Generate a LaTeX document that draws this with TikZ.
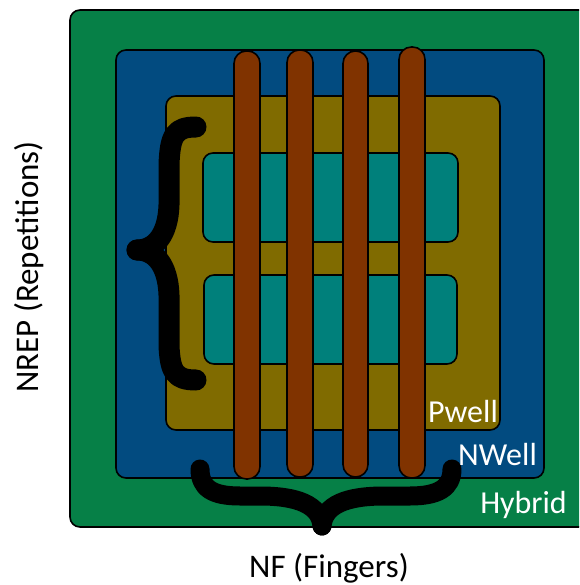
\documentclass[tikz,border=0pt]{standalone}
\usepackage{fontspec}
\setmainfont{Carlito}
\definecolor{hybridcol}{HTML}{068047}
\definecolor{nwellcol}{HTML}{024B80}
\definecolor{pwellcol}{HTML}{806B00}
\definecolor{diffcol}{HTML}{00807B}
\definecolor{polycol}{HTML}{803300}
\tikzset{
  wellbox/.style={draw=black,line width=1.6pt,rounded corners=10pt},
  finger/.style={draw=black,line width=1.6pt,fill=polycol,rounded corners=12.4pt},
  bracket/.style={draw=black,line width=19pt,line cap=round,line join=round},
  welllabel/.style={text=white,font=\fontsize{32}{32}\selectfont,inner sep=0pt},
  sizelabel/.style={text=black,font=\fontsize{33}{33}\selectfont,inner sep=0pt}
}
\begin{document}
\begin{tikzpicture}[x=1pt,y=-1pt]
        \useasboundingbox (0,0) rectangle (579,585);
        \clip (0,0) rectangle (579,585);
        % the wells, outermost first
        \draw[wellbox,fill=hybridcol] (70,10) rectangle (600,527);
        \draw[wellbox,fill=nwellcol] (116,50) rectangle (544,478);
        \draw[wellbox,fill=pwellcol] (166,96) rectangle (500,430);
        % two diffusions
        \draw[wellbox,fill=diffcol] (203,153) rectangle (458,242);
        \draw[wellbox,fill=diffcol] (204,275) rectangle (457,364);
        % the fingers
        \draw[finger] (234,51) rectangle (260,479);
        \draw[finger] (287,50) rectangle (313,477);
        \draw[finger] (343,51) rectangle (368,477);
        \draw[finger] (399,47) rectangle (425,478);
        % braces
        \coordinate (repstop) at (196,127);
        \coordinate (repstip) at (137,250);
        \coordinate (repsend) at (196,380);
        \coordinate (nfstart) at (200,469);
        \coordinate (nftip) at (322,526);
        \coordinate (nfend) at (452,469);
        \draw[bracket,line width=21pt] (repstop) .. controls (175,127) and (170,135) .. (169,165)
            -- (169,205) .. controls (168,235) and (155,250) .. (repstip);
        \draw[bracket,line width=21pt] (repstip) .. controls (155,250) and (168,265) .. (169,295)
            -- (169,345) .. controls (170,372) and (175,380) .. (repsend);
        \draw[bracket] (nfstart) .. controls (200,488) and (212,496) .. (240,496)
            -- (260,496) .. controls (298,496) and (320,505) .. (nftip);
        \draw[bracket] (nftip) .. controls (324,505) and (346,496) .. (384,496)
            -- (410,496) .. controls (438,496) and (452,488) .. (nfend);
        % labels
        \node[welllabel,anchor=base east] (pwelllabel) at (498,422) {Pwell};
        \node[welllabel,anchor=base east] (nwelllabel) at (537,465) {NWell};
        \node[welllabel,anchor=base east] (hybridlabel) at (567,513) {Hybrid};
        \node[sizelabel,anchor=base] (nflabel) at (329,577) {NF (Fingers)};
        \node[sizelabel,anchor=base,rotate=90] (nreplabel) at (38,267) {NREP (Repetitions)};
\end{tikzpicture}
\end{document}
